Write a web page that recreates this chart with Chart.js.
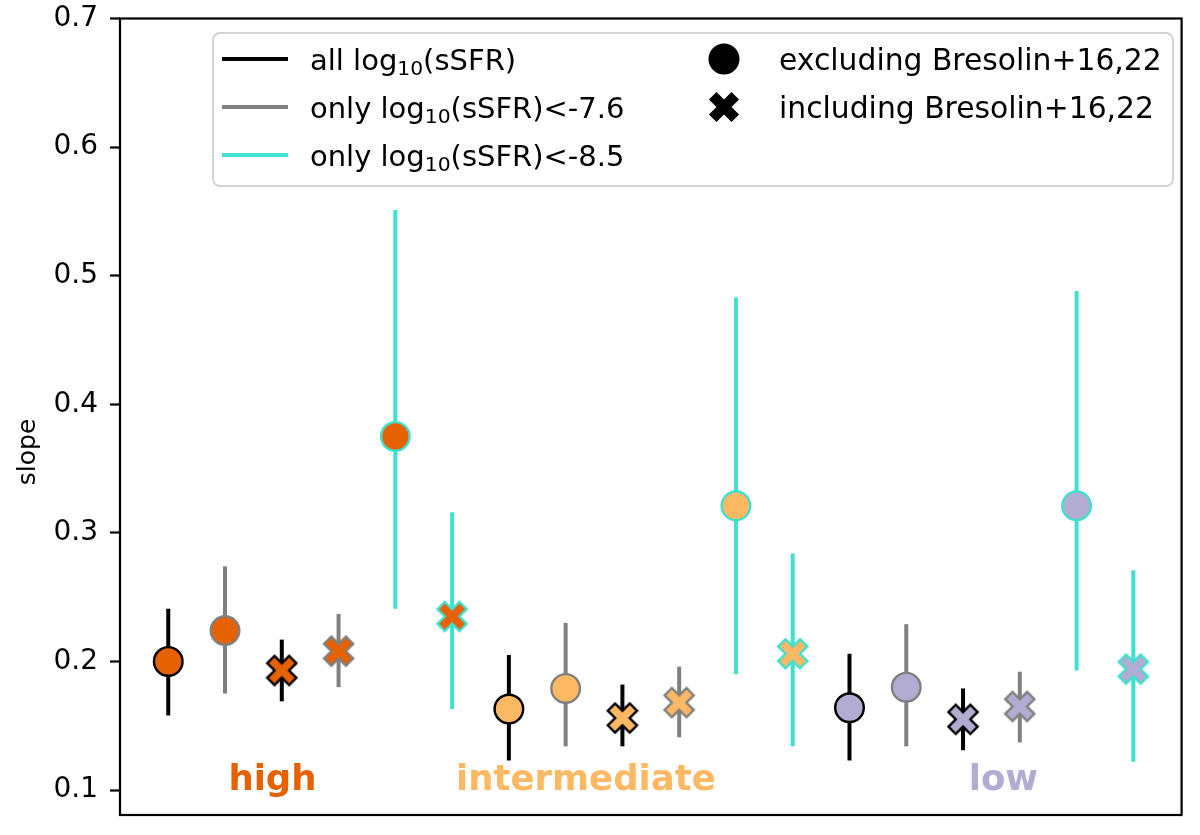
<!DOCTYPE html>
<html><head><meta charset="utf-8">
<script src="https://cdn.jsdelivr.net/npm/chart.js@4/dist/chart.umd.min.js"></script>
<style>html,body{margin:0;padding:0;background:#fff;}canvas{display:block;}</style>
</head><body>
<canvas id="c" width="1200" height="835"></canvas>
<script>
// ---------- data ----------
const groups = ['high', 'intermediate', 'low'];
const groupLabelX = [1.06, 5.07, 14.1];
const groupLabelY = 0.1;
const yTicks = [0.1, 0.2, 0.3, 0.4, 0.5, 0.6, 0.7];

// series order inside each group
const seriesNames = ['all, excl.', '<-7.6, excl.', 'all, incl.', '<-7.6, incl.', '<-8.5, excl.', '<-8.5, incl.'];

const slopeAllExcl   = [0.200, 0.163, 0.164];
const lowerAllExcl   = [0.158, 0.123, 0.123];
const upperAllExcl   = [0.241, 0.205, 0.206];

const slope76Excl    = [0.224, 0.179, 0.180];
const lower76Excl    = [0.175, 0.134, 0.134];
const upper76Excl    = [0.274, 0.230, 0.229];

const slopeAllIncl   = [0.193, 0.156, 0.155];
const lowerAllIncl   = [0.169, 0.134, 0.131];
const upperAllIncl   = [0.217, 0.182, 0.179];

const slope76Incl    = [0.208, 0.168, 0.165];
const lower76Incl    = [0.180, 0.141, 0.137];
const upper76Incl    = [0.237, 0.196, 0.192];

const slope85Excl    = [0.375, 0.321, 0.321];
const lower85Excl    = [0.241, 0.190, 0.193];
const upper85Excl    = [0.551, 0.483, 0.488];

const slope85Incl    = [0.235, 0.206, 0.194];
const lower85Incl    = [0.163, 0.134, 0.122];
const upper85Incl    = [0.316, 0.284, 0.271];

const slopes = [slopeAllExcl, slope76Excl, slopeAllIncl, slope76Incl, slope85Excl, slope85Incl];
const lowers = [lowerAllExcl, lower76Excl, lowerAllIncl, lower76Incl, lower85Excl, lower85Incl];
const uppers = [upperAllExcl, upper76Excl, upperAllIncl, upper76Incl, upper85Excl, upper85Incl];

// ---------- styles ----------
const groupColors = ['#e66101', '#fdb863', '#b2abd2'];
const seriesEdge = ['#000000', '#808080', '#000000', '#808080', '#40e0d0', '#40e0d0'];
const seriesMarker = ['circle', 'circle', 'X', 'X', 'circle', 'X'];
const FONT = "'DejaVu Sans', 'Liberation Sans', sans-serif";
const MARKER = 31, EDGE = 2.4, BARW = 4;

function makeX(fill, edge, m, lw) {
  let size = Math.ceil(m + 2 * lw + 4); if (size % 2) size++;
  const c = document.createElement('canvas'); c.width = size; c.height = size;
  const ctx = c.getContext('2d');
  ctx.translate(size / 2, size / 2);
  xPath(ctx, m);
  ctx.fillStyle = fill; ctx.fill();
  if (lw > 0) { ctx.lineWidth = lw; ctx.strokeStyle = edge; ctx.lineJoin = 'miter'; ctx.stroke(); }
  return c;
}
function xPath(ctx, m) {
  const p = [[-1,-3],[1,-3],[1,-1],[3,-1],[3,1],[1,1],[1,3],[-1,3],[-1,1],[-3,1],[-3,-1],[-1,-1]];
  const a = Math.PI / 4, ca = Math.cos(a), sa = Math.sin(a);
  ctx.beginPath();
  p.forEach(([u, v], i) => {
    const X = u / 6 * m, Y = v / 6 * m;
    const rx = X * ca - Y * sa, ry = X * sa + Y * ca;
    i ? ctx.lineTo(rx, ry) : ctx.moveTo(rx, ry);
  });
  ctx.closePath();
}

const datasets = seriesNames.map((name, s) => {
  const isX = seriesMarker[s] === 'X';
  return {
    label: name,
    data: groups.map((g, gi) => ({ x: gi * 6 + s, y: slopes[s][gi] })),
    errLow: lowers[s], errHigh: uppers[s],
    edge: seriesEdge[s],
    backgroundColor: groupColors,
    borderColor: seriesEdge[s],
    borderWidth: EDGE,
    pointRadius: isX ? 16 : (MARKER - EDGE) / 2,
    pointHoverRadius: isX ? 16 : (MARKER - EDGE) / 2,
    pointStyle: isX ? groupColors.map(c => makeX(c, seriesEdge[s], MARKER, EDGE)) : 'circle',
    showLine: false
  };
});

const errorBars = {
  id: 'errorBars',
  beforeDatasetsDraw(chart) {
    const ctx = chart.ctx, xs = chart.scales.x, ys = chart.scales.y;
    ctx.save();
    ctx.lineWidth = BARW; ctx.lineCap = 'butt';
    chart.data.datasets.forEach(ds => {
      ds.data.forEach((p, i) => {
        const px = xs.getPixelForValue(p.x);
        ctx.strokeStyle = ds.edge;
        ctx.beginPath();
        ctx.moveTo(px, ys.getPixelForValue(ds.errLow[i]));
        ctx.lineTo(px, ys.getPixelForValue(ds.errHigh[i]));
        ctx.stroke();
      });
    });
    ctx.restore();
  }
};

function drawSubText(ctx, parts, x, y, size) {
  let cx = x;
  parts.forEach(([t, sub]) => {
    if (sub) {
      ctx.font = `${size * 0.7}px ${FONT}`;
      ctx.fillText(t, cx, y + size * 0.18);
    } else {
      ctx.font = `${size}px ${FONT}`;
      ctx.fillText(t, cx, y);
    }
    cx += ctx.measureText(t).width;
  });
}

const decorations = {
  id: 'decorations',
  afterDatasetsDraw(chart) {
    const ctx = chart.ctx, a = chart.chartArea, xs = chart.scales.x, ys = chart.scales.y;
    ctx.save();
    // frame
    ctx.strokeStyle = '#000'; ctx.lineWidth = 2.2;
    ctx.strokeRect(a.left, a.top, a.right - a.left, a.bottom - a.top);
    // group labels
    ctx.font = `bold 35.5px ${FONT}`;
    ctx.textAlign = 'left'; ctx.textBaseline = 'alphabetic';
    groups.forEach((g, gi) => {
      ctx.fillStyle = groupColors[gi];
      ctx.fillText(g, xs.getPixelForValue(groupLabelX[gi]), ys.getPixelForValue(groupLabelY));
    });
    // y label
    ctx.fillStyle = '#000';
    ctx.font = `25px ${FONT}`;
    ctx.translate(28, 452);
    ctx.rotate(-Math.PI / 2);
    ctx.textAlign = 'center'; ctx.textBaseline = 'middle';
    ctx.fillText('slope', 0, 0);
    ctx.restore();

    // legend
    ctx.save();
    const L = 213, T = 33, W = 960, H = 153, r = 7;
    ctx.beginPath();
    ctx.roundRect(L, T, W, H, r);
    ctx.fillStyle = 'rgba(255,255,255,0.85)'; ctx.fill();
    ctx.strokeStyle = '#d4d4d4'; ctx.lineWidth = 2; ctx.stroke();
    const rows = [59, 107, 155];
    const lineCols = ['#000000', '#808080', '#40e0d0'];
    const lineTexts = [
      [['all log', false], ['10', true], ['(sSFR)', false]],
      [['only log', false], ['10', true], ['(sSFR)<-7.6', false]],
      [['only log', false], ['10', true], ['(sSFR)<-8.5', false]]
    ];
    ctx.textAlign = 'left'; ctx.textBaseline = 'alphabetic'; ctx.fillStyle = '#000';
    rows.forEach((ry, i) => {
      ctx.strokeStyle = lineCols[i]; ctx.lineWidth = 4.2;
      ctx.beginPath(); ctx.moveTo(222, ry); ctx.lineTo(288, ry); ctx.stroke();
      drawSubText(ctx, lineTexts[i], 310, ry + 10.5, 29);
    });
    // marker legend
    ctx.fillStyle = '#000';
    ctx.beginPath(); ctx.arc(724, rows[0], MARKER / 2, 0, Math.PI * 2); ctx.fill();
    ctx.save(); ctx.translate(724, rows[1]); xPath(ctx, MARKER + 1); ctx.fill(); ctx.restore();
    ctx.font = `29.8px ${FONT}`;
    ctx.fillText('excluding Bresolin+16,22', 779, rows[0] + 10.5);
    ctx.fillText('including Bresolin+16,22', 779, rows[1] + 10.5);
    ctx.restore();
  }
};

new Chart(document.getElementById('c'), {
  type: 'scatter',
  data: { datasets },
  options: {
    responsive: false, animation: false,
    layout: { padding: { left: 0, right: 10, top: 18.5, bottom: 20 } },
    plugins: { legend: { display: false }, tooltip: { enabled: false } },
    scales: {
      x: { type: 'linear', min: -0.85, max: 17.85, display: false },
      y: {
        type: 'linear', min: 0.0806, max: 0.7,
        afterFit(s) { s.width = 120; s.paddingTop = 0; s.paddingBottom = 0; },
        afterBuildTicks(s) { s.ticks = yTicks.map(v => ({ value: v })); },
        ticks: { font: { family: FONT, size: 28 }, color: '#000', padding: 12, callback: v => v.toFixed(1) },
        grid: { drawOnChartArea: false, drawTicks: true, tickLength: 10, tickWidth: 2.2, tickColor: '#000' },
        border: { display: false }
      }
    }
  },
  plugins: [errorBars, decorations]
});
</script>
</body></html>
